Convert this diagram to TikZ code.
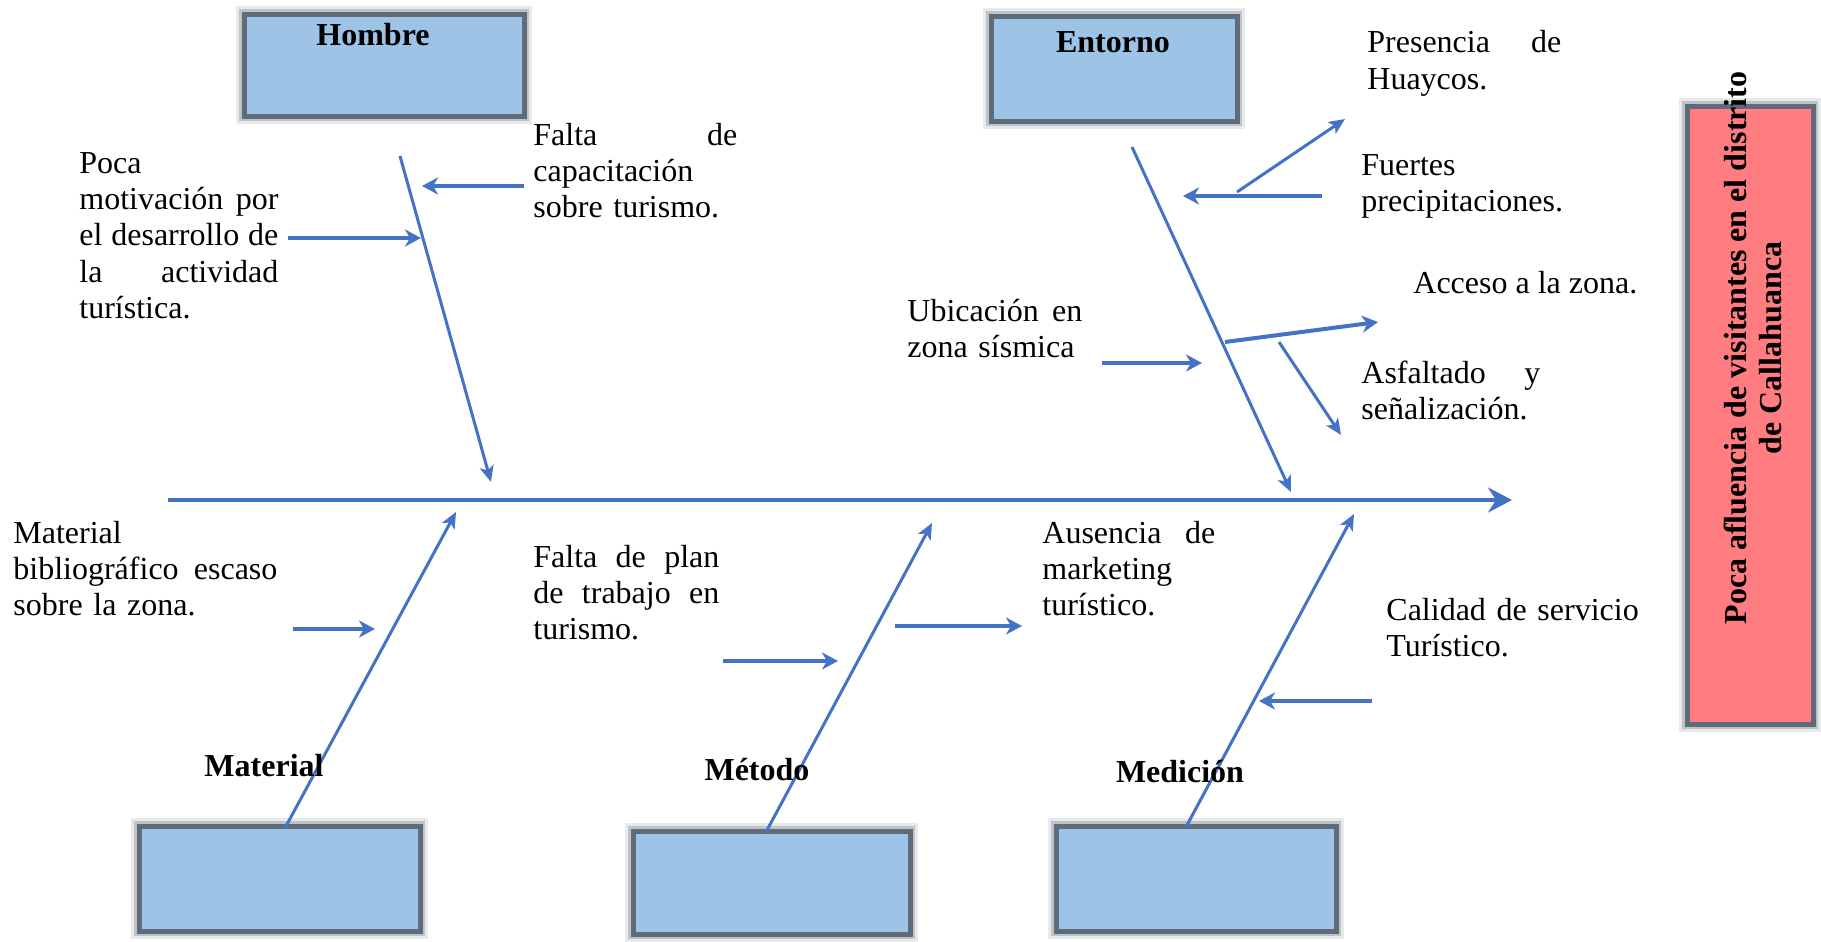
\documentclass[tikz,border=0pt]{standalone}
\usepackage{fontspec}
\setmainfont{Liberation Serif}
\usetikzlibrary{arrows.meta}
\definecolor{fishblue}{HTML}{4472C4}
\definecolor{boxblue}{HTML}{9DC3E6}
\definecolor{effred}{HTML}{FF7C80}
\definecolor{edgegray}{HTML}{5F6B78}
\newcommand\jl[2]{\leavevmode\hbox to #1{#2}}
\begin{document}
\begin{tikzpicture}[x=0.5pt,y=-0.5pt,
  catbox/.style={rectangle, inner sep=0pt, fill=boxblue, draw=edgegray, line width=2.5pt,
    preaction={draw=edgegray, draw opacity=0.15, line width=8pt},
    preaction={draw=edgegray, draw opacity=0.3, line width=5pt}},
  effbox/.style={catbox, fill=effred},
  bone/.style={draw=fishblue, line width=1.5pt, -{Stealth[length=8pt,width=7pt,inset=2pt]}},
  twig/.style={draw=fishblue, line width=2pt, -{Stealth[length=8pt,width=8.5pt,inset=2.5pt]}},
  spine/.style={draw=fishblue, line width=2pt, -{Stealth[length=12pt,width=12.5pt,inset=4pt]}},
  cause/.style={inner sep=0pt, anchor=base west, align=left, font=\fontsize{16}{18.2}\selectfont},
  cat/.style={inner sep=0pt, anchor=base, font=\fontsize{16}{18.2}\selectfont\bfseries},
]
\useasboundingbox (0,0) rectangle (1821,942);

% boxes
\node[catbox, minimum width=140pt, minimum height=51pt] (hombre) at (384,65) {};
\node[catbox, minimum width=123pt, minimum height=52.5pt] (entorno) at (1114,68.5) {};
\node[effbox, minimum width=63pt, minimum height=309pt] (efecto) at (1750,415) {};
\node[catbox, minimum width=140.5pt, minimum height=52.5pt] (material) at (279.5,878.5) {};
\node[catbox, minimum width=138.5pt, minimum height=51.5pt] (metodo) at (771.5,882.5) {};
\node[catbox, minimum width=140pt, minimum height=52.5pt] (medicion) at (1196,878.5) {};

% effect text
\node[rotate=90, align=center, inner sep=0pt, font=\fontsize{16}{17.5}\selectfont\bfseries] (tefecto) at (1753,348)
  {Poca afluencia de visitantes en el distrito\\de Callahuanca};

% spine
\coordinate (s0) at (168,500);
\coordinate (s1) at (1512,500);
\draw[spine] (s0) -- (s1);

% bones
\coordinate (h0) at (400,156);  \coordinate (h1) at (491,482);
\coordinate (e0) at (1132,147); \coordinate (e1) at (1291,492);
\coordinate (m0) at (285,828);  \coordinate (m1) at (456,512);
\coordinate (t0) at (766,832);  \coordinate (t1) at (932,523);
\coordinate (d0) at (1186,827); \coordinate (d1) at (1354,514);
\draw[bone] (h0) -- (h1);
\draw[bone] (e0) -- (e1);
\draw[bone] (m0) -- (m1);
\draw[bone] (t0) -- (t1);
\draw[bone] (d0) -- (d1);

% twigs
\coordinate (a1s) at (524,186);  \coordinate (a1e) at (422,186);
\coordinate (a2s) at (288,238);  \coordinate (a2e) at (421,238);
\coordinate (a3s) at (1322,196); \coordinate (a3e) at (1183,196);
\coordinate (a4s) at (1237,192); \coordinate (a4e) at (1345,119);
\coordinate (a5s) at (1225,342); \coordinate (a5e) at (1378,322);
\coordinate (a6s) at (1279,342); \coordinate (a6e) at (1341,435);
\coordinate (a7s) at (1102,363); \coordinate (a7e) at (1202,363);
\coordinate (a8s) at (293,629);  \coordinate (a8e) at (375,629);
\coordinate (a9s) at (723,661);  \coordinate (a9e) at (838,661);
\coordinate (b1s) at (895,626);  \coordinate (b1e) at (1022,626);
\coordinate (b2s) at (1372,701); \coordinate (b2e) at (1259,701);
\draw[twig] (a1s) -- (a1e);
\draw[twig] (a2s) -- (a2e);
\draw[twig] (a3s) -- (a3e);
\draw[bone] (a4s) -- (a4e);
\draw[twig] (a5s) -- (a5e);
\draw[bone] (a6s) -- (a6e);
\draw[twig] (a7s) -- (a7e);
\draw[twig] (a8s) -- (a8e);
\draw[twig] (a9s) -- (a9e);
\draw[twig] (b1s) -- (b1e);
\draw[twig] (b2s) -- (b2e);

% category labels
\node[cat] (lhombre) at (373,45) {Hombre};
\node[cat] (lentorno) at (1113,53) {Entorno};
\node[cat] (lmaterial) at (264,776) {Material};
\node[cat] (lmetodo) at (757,780) {Método};
\node[cat] (lmedicion) at (1180,782) {Medición};

% cause texts
\node[cause, text width=99.5pt] (tpoca) at (79,173)
  {Poca\\\jl{99.5pt}{motivación\hfill por}\\\jl{99.5pt}{el\hfill desarrollo\hfill de}\\\jl{99.5pt}{la\hfill actividad}\\turística.};
\node[cause, text width=102pt] (tfalta) at (533,145)
  {\jl{102pt}{Falta\hfill de}\\capacitación\\sobre turismo.};
\node[cause, text width=97pt] (thuay) at (1367,53)
  {\jl{97pt}{Presencia\hfill de}\\Huaycos.};
\node[cause, text width=110pt] (tfuer) at (1361,175)
  {Fuertes\\precipitaciones.};
\node[cause] (tacc) at (1413,293) {Acceso a la zona.};
\node[cause, text width=87.5pt] (tubi) at (907,321)
  {\jl{87.5pt}{Ubicación\hfill en}\\zona sísmica};
\node[cause, text width=89.5pt] (tasf) at (1361,383)
  {\jl{89.5pt}{Asfaltado\hfill y}\\señalización.};
\node[cause, text width=132pt] (tmat) at (13,543)
  {Material\\\jl{132pt}{bibliográfico\hfill escaso}\\sobre la zona.};
\node[cause, text width=93pt] (tplan) at (533,567)
  {\jl{93pt}{Falta\hfill de\hfill plan}\\\jl{93pt}{de\hfill trabajo\hfill en}\\turismo.};
\node[cause, text width=86.5pt] (taus) at (1042,543)
  {\jl{86.5pt}{Ausencia\hfill de}\\marketing\\turístico.};
\node[cause, text width=140pt] (tcal) at (1386,620)
  {Calidad de servicio\\Turístico.};
\end{tikzpicture}
\end{document}
